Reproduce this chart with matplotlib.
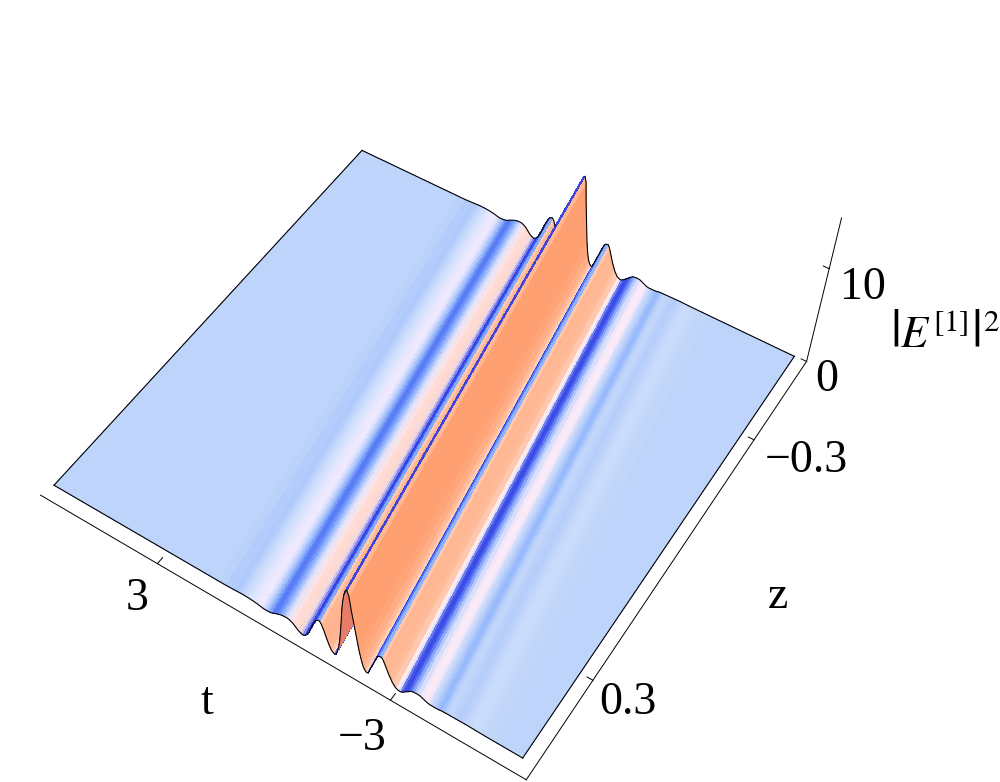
import numpy as np
import matplotlib
matplotlib.use("Agg")
import matplotlib.pyplot as plt

plt.rcParams["font.family"] = ["Liberation Serif", "DejaVu Serif"]
plt.rcParams["mathtext.fontset"] = "stix"

# profile across the ridge, s = distance in t from the crest
s_vals = [-6, -4.5, -3.6, -3.54, -3.48, -3.42, -3.36, -3.3, -3.24, -3.18, -3.12, -3.06, -3, -2.94, -2.88,
          -2.82, -2.76, -2.7, -2.64, -2.58, -2.52, -2.46, -2.4, -2.34, -2.28, -2.22, -2.16, -2.1, -2.04,
          -1.98, -1.92, -1.86, -1.8, -1.74, -1.68, -1.62, -1.56, -1.5, -1.44, -1.38, -1.32, -1.26, -1.2,
          -1.14, -1.08, -1, -.96, -.92, -.88, -.84, -.8, -.76, -.72, -.68, -.64, -.6, -.56, -.52, -.48,
          -.44, -.4, -.36, -.32, -.28, -.24, -.2, -.16, -.12, -.08, -.04, 0, .04, .08, .12, .16, .2, .24,
          .28, .32, .36, .4, .44, .48, .52, .56, .6, .64, .68, .72, .76, .8, .84, .88, .92, .96, 1, 1.06,
          1.12, 1.18, 1.24, 1.3, 1.36, 1.42, 1.48, 1.54, 1.6, 1.66, 1.72, 1.78, 1.84, 1.9, 1.96, 2.02, 2.08,
          2.14, 2.2, 2.26, 2.32, 2.38, 2.44, 2.5, 2.56, 2.62, 2.68, 2.74, 2.8, 2.86, 2.92, 2.98, 3.2, 3.4,
          3.6, 3.8, 4, 4.2, 4.4, 6, 8]
e_vals = [.860, .860, .850, .850, .851, .853, .854, .856, .858, .861, .866, .872, .880, .887, .894, .898,
          .900, .896, .888, .879, .872, .870, .874, .878, .880, .854, .802, .763, .760, .760, .760, .814,
          .927, 1.037, 1.162, 1.199, 1.182, 1.150, 1.019, .790, .585, .366, .213, .233, .371, .844, 1.209,
          1.606, 2.070, 2.509, 2.996, 3.250, 3.222, 3.150, 2.853, 2.400, 1.980, 1.538, 1.104, .636, .196,
          .151, .355, .730, 1.524, 2.563, 3.953, 5.308, 6.750, 8.500, 9.000, 8.863, 8.333, 7.471, 6.371,
          4.800, 3.414, 2.239, 1.300, .700, .202, .120, .254, .462, .879, 1.400, 1.992, 2.584, 3.040, 3.300,
          3.262, 3.169, 2.927, 2.586, 2.206, 1.740, 1.100, .618, .328, .200, .299, .481, .739, .994, 1.137,
          1.235, 1.246, 1.219, 1.173, 1.084, .983, .852, .731, .684, .660, .650, .683, .751, .807, .849,
          .887, .914, .929, .941, .948, .949, .940, .923, .905, .862, .858, .860, .862, .861, .860, .860,
          .860, .860]
ridge_t0 = -1.075
ridge_drift = -1.63

t_ticks = [3, -3]
z_ticks = [0.3, -0.3]
e_ticks = [0, 10]

# colour of a strip against its slope de/ds
slope_nodes = [-10, -3, -2, -1, -.5, -.2, 0, .15, .5, 1, 2, 5, 10, 30]
slope_r = [50, 55, 80, 125, 155, 178, 191, 205, 225, 245, 255, 255, 255, 255]
slope_g = [60, 70, 115, 165, 190, 203, 212, 222, 230, 235, 235, 205, 185, 160]
slope_b = [225, 228, 245, 252, 253, 251, 250, 252, 253, 255, 245, 180, 150, 115]
under_color = (229, 125, 105)

s = np.array(s_vals)
e = np.array(e_vals)
z = np.linspace(-0.5, 0.5, 31)

slope = np.diff(e) / np.diff(s)
rgb = np.column_stack([np.interp(slope, slope_nodes, slope_r),
                       np.interp(slope, slope_nodes, slope_g),
                       np.interp(slope, slope_nodes, slope_b)]) / 255
# soften the steps from strip to strip, only on the gentle slopes
kernel = np.array([1, 4, 6, 4, 1]) / 16
soft = np.column_stack([np.convolve(np.pad(rgb[:, i], 2, mode="edge"), kernel, mode="valid") for i in range(3)])
gentle = (np.abs(s[:-1] + s[1:]) / 2 > 1.2)
rgb[gentle] = soft[gentle]
rgb[slope < -15] = np.array(under_color) / 255
colors = np.ones((len(z) - 1, len(s) - 1, 4))
colors[:, :, :3] = rgb

S, Z = np.meshgrid(s, z)
T = np.clip(S + ridge_t0 + ridge_drift * Z, -6, 6)
E = np.tile(e, (len(z), 1))

fig = plt.figure(figsize=(10, 7.82), dpi=100)
ax = fig.add_axes([0.0086, -0.0021, 0.8262, 0.8262 * 1000 / 782], projection="3d")
ax.set_xlim(-6.24, 6.24, view_margin=0)
ax.set_ylim(-0.52, 0.52, view_margin=0)
ax.set_zlim(0, 15, view_margin=0)
ax.view_init(52.4021, 123.1226, 0.2261)
ax.set_proj_type("persp", focal_length=0.4391)
ax.set_box_aspect((1, 0.9987, 0.3981))
ax.set_axis_off()
ax.computed_zorder = False

ax.plot_surface(T, Z, E, facecolors=colors, rstride=1, cstride=1, shade=False,
                linewidth=0, antialiased=False, zorder=1)

line = dict(color="black", lw=0.8, zorder=3, clip_on=False)
# front edge, back edge (the part behind the crest stays hidden), side edges
ax.plot(T[-1], Z[-1], E[-1], **line)
back = E[0].copy()
back[(s > 0) & (s < 0.67)] = np.nan
ax.plot(T[0], Z[0], back, **line)
ax.plot(T[:, 0], Z[:, 0], E[:, 0], **line)
ax.plot(T[:, -1], Z[:, -1], E[:, -1], **line)
# crest line
crest = s_vals.index(0)
ax.plot(T[:, crest], Z[:, crest], E[:, crest], color="#6a3fb0", lw=0.7, ls=(0, (1, 2)), zorder=2)

# box edges and ticks
frame = dict(color="black", lw=0.7, zorder=3, clip_on=False)
ax.plot([6.24, -6.24], [0.52, 0.52], [0, 0], **frame)
ax.plot([-6.24, -6.24], [0.52, -0.52], [0, 0], **frame)
ax.plot([-6.24, -6.24], [-0.52, -0.52], [0, 15], **frame)
for v in t_ticks:
    ax.plot([v, v], [0.52, 0.505], [0, 0], **frame)
for v in z_ticks:
    ax.plot([-6.24, -6.1], [v, v], [0, 0], **frame)
for v in e_ticks:
    ax.plot([-6.24, -6.1], [-0.52, -0.52], [v, v], **frame)

def label(x, y, txt, size=33):
    fig.text(x / 1000, 1 - y / 782, txt, fontsize=size, ha="center", va="center")

label(137, 599, "3")
label(362, 739, "\u22123")
label(207, 703, "t")
label(778, 597, "z")
label(628, 703, "0.3")
label(806, 461, "\u22120.3")
label(827, 380, "0")
label(863, 288, "10")
label(945, 335, r"$\left|E^{[1]}\right|^2$", 32)

fig.savefig("out.png", dpi=100)
